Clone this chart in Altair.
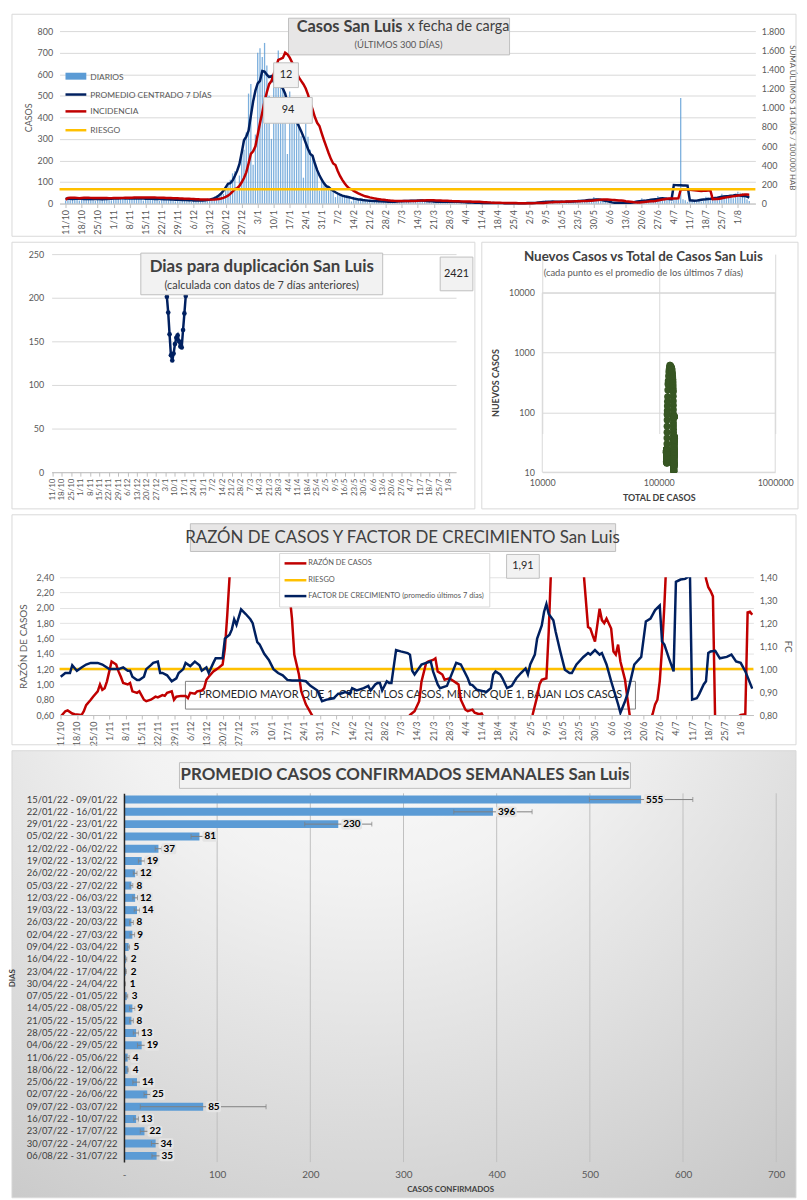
import altair as alt
import pandas as pd

FONT = "Lato"
GRAY_TXT = "#595959"
DARK_TXT = "#404040"

# ---------------- data ----------------
TICK_LABELS = ['11/10', '18/10', '25/10', '1/11', '8/11', '15/11', '22/11', '29/11', '6/12', '13/12',
               '20/12', '27/12', '3/1', '10/1', '17/1', '24/1', '31/1', '7/2', '14/2', '21/2', '28/2',
               '7/3', '14/3', '21/3', '28/3', '4/4', '11/4', '18/4', '25/4', '2/5', '9/5', '16/5',
               '23/5', '30/5', '6/6', '13/6', '20/6', '27/6', '4/7', '11/7', '18/7', '25/7', '1/8']

# daily cases, 11/10/2021 .. 06/08/2022 (300 days)
DAILY = [15, 28, 25, 24, 22, 18,
         14, 28, 25, 22, 24, 20, 19,
         13, 26, 24, 22, 21, 20, 16,
         15, 30, 28, 25, 26, 24, 20,
         16, 30, 27, 26, 25, 23, 21,
         14, 28, 26, 24, 22, 22, 18,
         12, 26, 24, 22, 20, 19, 17,
         10, 22, 20, 18, 17, 18, 14,
         8, 18, 16, 15, 14, 16, 12,
         10, 18, 20, 24, 28, 34, 40,
         45, 70, 85, 110, 140, 150, 60,
         130, 220, 250, 330, 510, 555, 180,
         320, 700, 720, 680, 745, 640, 500,
         300, 600, 640, 710, 560, 610, 465,
         230, 520, 470, 430, 420, 390, 312,
         120, 370, 310, 250, 220, 190, 150,
         60, 120, 95, 85, 75, 70, 62,
         30, 50, 42, 38, 35, 33, 31,
         10, 32, 25, 20, 16, 18, 12,
         8, 17, 14, 12, 11, 13, 9,
         4, 12, 10, 8, 7, 9, 6,
         6, 16, 14, 13, 12, 15, 8,
         8, 20, 18, 14, 12, 16, 10,
         4, 12, 9, 8, 7, 10, 6,
         5, 13, 10, 9, 8, 11, 7,
         3, 7, 6, 5, 4, 6, 4,
         1, 3, 2, 3, 2, 2, 1,
         2, 2, 3, 2, 2, 2, 1,
         0, 2, 1, 1, 2, 1, 0,
         1, 4, 3, 4, 3, 3, 3,
         4, 15, 12, 9, 8, 10, 5,
         5, 12, 9, 8, 7, 9, 6,
         6, 18, 15, 14, 12, 16, 10,
         10, 30, 22, 20, 18, 21, 12,
         2, 8, 5, 4, 3, 4, 2,
         3, 5, 4, 4, 4, 5, 3,
         5, 25, 18, 15, 14, 13, 8,
         18, 35, 28, 26, 24, 25, 19,
         10, 22, 20, 18, 490, 20, 15,
         8, 18, 15, 14, 12, 14, 10,
         12, 32, 28, 22, 20, 25, 15,
         25, 45, 40, 36, 32, 35, 25,
         30, 55, 50, 48, 30, 20, 12]

POBLACION = 520000
RIESGO_INC = 150
BASE_TOTAL = 116200

DUP_DIA = [85, 86, 87, 88, 89, 90, 91, 92, 93, 94, 95, 96, 97, 98, 99]
DUP_VAL = [201, 183, 158, 134, 128, 136, 147, 154, 157, 150, 144, 143, 163, 182, 202]

RAZON_DIA = [0, 2, 3, 5, 6, 9, 10, 11, 13, 14, 16, 17, 18, 19, 20, 21, 22, 24, 25, 26,
             27, 29, 30, 31, 33, 34, 36, 37, 39, 41, 42, 44, 45, 46, 48, 49, 50, 52, 54, 55,
             56, 58, 59, 61, 62, 63, 64, 66, 67, 68, 70, 71, 72, 74, 78, 85, 92, 97, 98, 100,
             101, 103, 104, 106, 109, 112, 130, 150, 151, 153, 155, 156, 158, 159, 161, 162, 163, 164, 165, 166,
             168, 169, 171, 172, 173, 175, 176, 178, 179, 181, 182, 184, 195, 203, 204, 206, 207, 208, 210, 211,
             212, 214, 220, 225, 226, 228, 229, 230, 231, 233, 234, 235, 236, 238, 239, 240, 241, 242, 244, 245,
             246, 248, 254, 256, 257, 258, 259, 260, 261, 262, 268, 275, 278, 279, 280, 281, 282, 283, 288, 293,
             294, 296, 297, 298, 299]
RAZON_VAL = [0.58, 0.65, 0.66, 0.62, 0.61, 0.60, 0.65, 0.73, 0.80, 0.84, 0.91, 1.00, 0.93, 0.95, 1.04, 1.17, 1.30, 1.26, 1.17, 1.10,
             1.02, 1.00, 1.02, 0.91, 0.89, 0.91, 0.80, 0.78, 0.80, 0.84, 0.83, 0.86, 0.85, 0.89, 0.91, 0.80, 0.84, 0.85, 0.85, 0.82,
             0.89, 0.88, 0.91, 0.92, 0.95, 1.06, 1.10, 1.17, 1.19, 1.21, 1.26, 1.47, 1.90, 2.9, 5.0, 6.0, 4.5, 3.0, 2.45, 1.86,
             1.39, 1.13, 0.91, 0.74, 0.58, 0.45, 0.40, 0.45, 0.60, 0.65, 0.78, 1.04, 1.28, 1.30, 1.32, 1.34, 1.17, 1.15, 1.13, 1.06,
             1.08, 1.06, 1.02, 1.00, 0.80, 0.67, 0.65, 0.67, 0.63, 0.61, 0.62, 0.50, 0.40, 0.50, 0.60, 0.84, 1.00, 1.06, 1.08, 1.69,
             2.5, 4.0, 5.0, 3.5, 2.5, 1.75, 1.73, 1.64, 1.56, 1.99, 1.84, 1.80, 1.86, 1.73, 1.43, 1.39, 1.52, 1.30, 1.06, 0.82,
             0.60, 0.45, 0.45, 0.62, 0.74, 0.80, 1.04, 1.47, 2.03, 2.7, 5.0, 4.0, 2.7, 2.38, 2.27, 2.22, 2.15, 0.45, 0.40, 0.58,
             0.60, 0.61, 1.94, 1.95, 1.91]
RIESGO_RAZON = 1.2

FC_DIA = [0, 2, 4, 5, 7, 9, 11, 13, 16, 18, 21, 25, 27, 29, 30, 31, 33, 34, 36, 37,
          39, 40, 42, 43, 44, 46, 48, 50, 51, 53, 54, 56, 58, 60, 61, 63, 64, 66, 67, 70,
          71, 73, 74, 75, 76, 78, 80, 82, 83, 85, 86, 88, 90, 92, 94, 96, 98, 100, 104, 106,
          108, 111, 112, 113, 115, 118, 120, 121, 123, 125, 126, 128, 131, 133, 134, 136, 137, 138, 139, 141,
          142, 143, 145, 147, 150, 151, 152, 153, 156, 158, 160, 161, 163, 164, 167, 169, 171, 173, 176, 177,
          178, 180, 183, 184, 186, 187, 188, 190, 191, 193, 195, 197, 199, 201, 202, 203, 205, 206, 208, 209,
          210, 211, 213, 214, 216, 218, 220, 221, 223, 226, 228, 229, 231, 233, 234, 236, 238, 241, 242, 244,
          245, 247, 248, 251, 253, 255, 257, 259, 260, 261, 263, 265, 266, 268, 270, 271, 272, 273, 275, 276,
          278, 279, 280, 281, 283, 285, 288, 290, 292, 294, 296, 299]
FC_VAL = [0.967, 0.983, 0.983, 1.017, 0.993, 1.007, 1.02, 1.027, 1.027, 1.02, 1.0, 1.0, 1.007, 0.993, 0.993, 0.967, 0.953, 0.953, 0.967, 1.0,
          1.017, 1.027, 1.033, 0.983, 0.983, 0.973, 0.947, 0.96, 0.983, 1.0, 1.027, 1.013, 1.033, 1.017, 0.993, 1.007, 0.983, 1.027, 1.047, 1.047,
          1.133, 1.15, 1.173, 1.217, 1.193, 1.26, 1.24, 1.217, 1.2, 1.117, 1.107, 1.067, 1.04, 1.0, 0.983, 0.973, 0.953, 0.95, 0.95, 0.947,
          0.927, 0.907, 0.883, 0.86, 0.867, 0.873, 0.893, 0.893, 0.90, 0.893, 0.917, 0.907, 0.917, 0.927, 0.907, 0.933, 0.94, 0.94, 0.907, 0.947,
          0.94, 0.94, 1.083, 1.077, 1.07, 1.063, 0.993, 0.977, 1.02, 1.027, 1.033, 0.99, 0.933, 0.917, 0.927, 0.977, 1.027, 1.02, 0.96, 0.933,
          0.93, 0.91, 0.903, 0.90, 0.917, 0.977, 0.99, 0.977, 0.96, 0.917, 0.927, 0.96, 0.983, 1.003, 0.977, 1.02, 1.063, 1.133, 1.19, 1.25,
          1.283, 1.24, 1.213, 1.163, 1.077, 0.997, 0.983, 0.983, 1.02, 1.053, 1.07, 1.063, 1.083, 1.063, 1.07, 1.02, 0.947, 0.847, 0.81, 0.86,
          0.89, 0.977, 1.02, 1.053, 1.207, 1.22, 1.257, 1.277, 1.12, 1.107, 1.047, 0.99, 1.38, 1.39, 1.393, 1.40, 1.45, 0.867, 0.873, 0.89,
          0.933, 0.947, 1.07, 1.077, 1.08, 1.047, 1.053, 1.063, 1.033, 1.027, 0.99, 0.915]

WEEK_LABELS = ['15/01/22 - 09/01/22', '22/01/22 - 16/01/22', '29/01/22 - 23/01/22', '05/02/22 - 30/01/22',
               '12/02/22 - 06/02/22', '19/02/22 - 13/02/22', '26/02/22 - 20/02/22', '05/03/22 - 27/02/22',
               '12/03/22 - 06/03/22', '19/03/22 - 13/03/22', '26/03/22 - 20/03/22', '02/04/22 - 27/03/22',
               '09/04/22 - 03/04/22', '16/04/22 - 10/04/22', '23/04/22 - 17/04/22', '30/04/22 - 24/04/22',
               '07/05/22 - 01/05/22', '14/05/22 - 08/05/22', '21/05/22 - 15/05/22', '28/05/22 - 22/05/22',
               '04/06/22 - 29/05/22', '11/06/22 - 05/06/22', '18/06/22 - 12/06/22', '25/06/22 - 19/06/22',
               '02/07/22 - 26/06/22', '09/07/22 - 03/07/22', '16/07/22 - 10/07/22', '23/07/22 - 17/07/22',
               '30/07/22 - 24/07/22', '06/08/22 - 31/07/22']
WEEK_AVG = [555, 396, 230, 81, 37, 19, 12, 8, 12, 14, 8, 9, 5, 2, 2, 1, 3, 9, 8, 13, 19, 4, 4, 14, 25, 85, 13, 22, 34, 35]
WEEK_SE = [55.5, 42, 36, 9, 3.5, 3.5, 2, 1.5, 2.5, 3, 2, 2.5, 1, 1, 0.5, 0.5, 1, 3, 2, 3, 4.5, 1.5, 0.5, 4.5, 3.5, 67.5, 2.5, 4.5, 4.5, 5]
GRID_X = [100, 200, 300, 400, 500, 600, 700]

LAST_DAILY = "12"
LAST_INC = "94"
LAST_DUP = "2421"
LAST_RAZON = "1,91"

# ---------------- helpers ----------------
ONE = pd.DataFrame({'k': [0]})
LBL_EXPR = "[" + ",".join("'%s'" % s for s in TICK_LABELS) + "][round(datum.value/7)]"
XDOM = alt.Scale(domain=[-0.5, 299.5], nice=False, zero=False)


def rect(x1, y1, x2, y2, fill='#ffffff', stroke='#d9d9d9', sw=1, fo=1.0):
    return alt.Chart(ONE).mark_rect(fill=fill, stroke=stroke, strokeWidth=sw, fillOpacity=fo).encode(
        x=alt.value(x1), x2=alt.value(x2), y=alt.value(y1), y2=alt.value(y2))


def txt(x, y, s, size=10, weight='normal', color=DARK_TXT, align='center'):
    return alt.Chart(ONE).mark_text(text=s, fontSize=size, fontWeight=weight, color=color, align=align,
                                    baseline='middle', font=FONT).encode(x=alt.value(x), y=alt.value(y))


def hline(x1, x2, y, color, width):
    return alt.Chart(ONE).mark_rule(color=color, strokeWidth=width).encode(
        x=alt.value(x1), x2=alt.value(x2), y=alt.value(y))


def xaxis(size):
    return alt.Axis(values=list(range(0, 295, 7)), labelExpr=LBL_EXPR, labelAngle=270, labelFontSize=size,
                    labelColor=GRAY_TXT, labelFont=FONT, labelPadding=2, labelOverlap=False, labelFlush=False,
                    grid=False, tickSize=4, tickColor='#bfbfbf', domainColor='#bfbfbf', title=None)


day_df = pd.DataFrame({'day': list(range(len(DAILY))), 'cases': DAILY})
SORT_DAY = [alt.SortField('day', order='ascending')]

# Every panel's plot origin sits 48px right of its frame's left edge (concat aligns origins).
L0 = 48

# ---------------- panel A ----------------
WA, HA = 702, 174
TA, RA, BA = 17, 41, 33
XA = alt.X('day:Q', scale=XDOM, axis=xaxis(9))
YL_AX = alt.Axis(values=list(range(0, 801, 100)), grid=True, gridColor='#d9d9d9', domain=False,
                 ticks=False, labelPadding=7, labelFontSize=9, labelColor=GRAY_TXT, title='CASOS',
                 titleFontSize=9, titleFontWeight='normal', titleColor=GRAY_TXT, titlePadding=4)
YR_AX = alt.Axis(orient='right', values=list(range(0, 1801, 200)),
                 labelExpr="replace(format(datum.value, ','), ',', '.')", grid=False, domain=False,
                 ticks=False, labelPadding=6, labelFontSize=9, labelColor=GRAY_TXT,
                 title='SUMA  ÚLTIMOS 14 DÍAS / 100.000 HAB', titleFontSize=8,
                 titleFontWeight='normal', titleColor=GRAY_TXT, titlePadding=3)

a_bars = alt.Chart(day_df).mark_bar(color='#5b9bd5', opacity=0.8, size=1.3).encode(
    x=XA, y=alt.Y('cases:Q', scale=alt.Scale(domain=[0, 800]), axis=YL_AX))
a_navy = alt.Chart(day_df).transform_window(prom='mean(cases)', frame=[-3, 3], sort=SORT_DAY).mark_line(
    color='#002060', strokeWidth=2.5).encode(
    x=XA, y=alt.Y('prom:Q', scale=alt.Scale(domain=[0, 800]), axis=YL_AX))
a_red = alt.Chart(day_df).transform_window(m14='mean(cases)', frame=[-13, 0], sort=SORT_DAY).transform_calculate(
    inc='datum.m14 * 14 * 100000 / %d' % POBLACION).mark_line(color='#c00000', strokeWidth=2.5).encode(
    x=XA, y=alt.Y('inc:Q', scale=alt.Scale(domain=[0, 1800]), axis=YR_AX))
a_yel = alt.Chart(pd.DataFrame({'riesgo': [RIESGO_INC]})).mark_rule(color='#ffc000', strokeWidth=2.5).encode(
    y=alt.Y('riesgo:Q', scale=alt.Scale(domain=[0, 1800]), axis=YR_AX))

panelA = alt.layer(
    rect(-L0, -TA, WA + RA, HA + BA, fo=0),
    rect(231, -13, 454, 24, fill='#e7e6e6', stroke='#bfbfbf'),
    txt(346, -4, 'Casos San Luis', 16.5, 'bold', DARK_TXT, 'right'),
    txt(351, -4, 'x fecha de carga', 14.5, 'normal', DARK_TXT, 'left'),
    txt(342, 14, '(ÚLTIMOS 300 DÍAS)', 9.5, 'normal', GRAY_TXT),
    alt.layer(a_bars, a_navy), alt.layer(a_red, a_yel),
    rect(6, 42, 27, 49, fill='#5b9bd5', stroke='#5b9bd5', sw=0),
    txt(31, 46, 'DIARIOS', 8.5, 'normal', GRAY_TXT, 'left'),
    hline(6, 27, 64, '#002060', 2.5),
    txt(31, 64, 'PROMEDIO CENTRADO 7 DÍAS', 8.5, 'normal', GRAY_TXT, 'left'),
    hline(6, 27, 81, '#c00000', 2.5),
    txt(31, 81, 'INCIDENCIA', 8.5, 'normal', GRAY_TXT, 'left'),
    hline(6, 27, 100, '#ffc000', 2.5),
    txt(31, 100, 'RIESGO', 8.5, 'normal', GRAY_TXT, 'left'),
    rect(216, 32, 241, 57, fill='#f2f2f2', stroke='#bfbfbf'),
    txt(228.5, 44.5, LAST_DAILY, 11, 'normal', '#262626'),
    rect(206, 67, 255, 93, fill='#f2f2f2', stroke='#bfbfbf'),
    txt(230.5, 80, LAST_INC, 11, 'normal', '#262626'),
).resolve_scale(y='independent').properties(width=WA, height=HA)

# ---------------- panel B left ----------------
WBL, HBL = 400, 220
TBL, RBL, BBL = 12, 19, 37
dup_df = pd.DataFrame({'day': DUP_DIA, 'dup': DUP_VAL})
XB = alt.X('day:Q', scale=alt.Scale(domain=[-0.5, 299.5], nice=False, zero=False, range=[-8, WBL]),
           axis=xaxis(8))
YB = alt.Y('dup:Q', scale=alt.Scale(domain=[0, 250]),
           axis=alt.Axis(values=[0, 50, 100, 150, 200, 250], grid=True, gridColor='#d9d9d9', domain=False,
                         ticks=False, labelPadding=8, labelFontSize=9, labelColor=GRAY_TXT, title=None, offset=8))
b_line = alt.Chart(dup_df).mark_line(color='#002060', strokeWidth=2.5).encode(x=XB, y=YB)
b_pts = alt.Chart(dup_df).mark_circle(color='#002060', size=22, opacity=1).encode(x=XB, y=YB)
panelBL = alt.layer(
    rect(-L0, -TBL, WBL + RBL, HBL + BBL, fo=0),
    b_line, b_pts,
    rect(82, -1, 326, 41, fill='#f2f2f2', stroke='#bfbfbf'),
    txt(204, 13, 'Dias para duplicación San Luis', 17, 'bold', DARK_TXT),
    txt(204, 32, '(calculada con datos de 7 días anteriores)', 11, 'normal', DARK_TXT),
    rect(384, 3, 417, 37, fill='#f2f2f2', stroke='#bfbfbf'),
    txt(400.5, 20, LAST_DUP, 11, 'normal', '#262626'),
).properties(width=WBL, height=HBL)

# ---------------- panel B right ----------------
WBR, HBR = 235, 220
TOPR = 39
LBR, RBR, BBR = 61, 23, 37
sc_base = alt.Chart(day_df).transform_window(cum='sum(cases)', frame=[None, 0], sort=SORT_DAY).transform_window(
    new7='mean(cases)', frame=[-6, 0], sort=SORT_DAY).transform_calculate(total='datum.cum + %d' % BASE_TOTAL)
XS = alt.X('total:Q', scale=alt.Scale(type='log', domain=[10000, 1000000]),
           axis=alt.Axis(values=[10000, 100000, 1000000], format='d', grid=True, gridColor='#d9d9d9',
                         domain=False, ticks=False, labelFontSize=9, labelColor=GRAY_TXT, labelPadding=6,
                         labelFlush=False, title='TOTAL DE CASOS', titleFontSize=9, titleFontWeight='bold',
                         titleColor=DARK_TXT, titlePadding=7))
YS = alt.Y('new7:Q', scale=alt.Scale(type='log', domain=[10, 10000], range=[HBR, TOPR]),
           axis=alt.Axis(values=[10, 100, 1000, 10000], format='d', grid=True, gridColor='#d9d9d9',
                         domain=False, ticks=False, labelFontSize=9, labelColor=GRAY_TXT, labelPadding=8,
                         labelFlush=False, title='NUEVOS CASOS', titleFontSize=9, titleFontWeight='bold',
                         titleColor=DARK_TXT, titlePadding=8))
sc_line = sc_base.mark_line(color='#375623', strokeWidth=2, clip=True).encode(x=XS, y=YS, order='day:Q')
sc_pts = sc_base.mark_circle(color='#375623', size=50, opacity=1, clip=True).encode(x=XS, y=YS)
panelBR = alt.layer(
    rect(-LBR, -TBL, WBR + RBR, HBR + BBR, fo=0),
    rect(0, TOPR, WBR, HBR, stroke='#d9d9d9', fo=0),
    sc_line, sc_pts,
    txt(102, 3, 'Nuevos Casos vs Total de Casos San Luis', 13.5, 'bold', DARK_TXT),
    txt(102, 19, '(cada punto es el promedio de los últimos 7 días)', 9.5, 'normal', GRAY_TXT),
).properties(width=WBR, height=HBR)

rowB = alt.hconcat(panelBL, panelBR, spacing=5)

# ---------------- panel C ----------------
WC, HC = 700, 139
TC, RC, BC = 63, 43, 30
comma = "replace(format(datum.value, '.2f'), '.', ',')"
raz_df = pd.DataFrame({'day': RAZON_DIA, 'razon': RAZON_VAL})
fc_df = pd.DataFrame({'day': FC_DIA, 'fc': FC_VAL})
XC = alt.X('day:Q', scale=XDOM, axis=xaxis(9))
YC_L = alt.Axis(values=[round(0.6 + 0.2 * i, 2) for i in range(10)], labelExpr=comma, grid=True,
                gridColor='#e3e3e3', domain=False, ticks=False, labelPadding=6, labelFontSize=9,
                labelColor=GRAY_TXT, title='RAZÓN  DE CASOS', titleFontSize=10,
                titleFontWeight='normal', titleColor=GRAY_TXT, titlePadding=8)
c_raz = alt.Chart(raz_df).mark_line(color='#c00000', strokeWidth=2.5, clip=True).encode(
    x=XC, y=alt.Y('razon:Q', scale=alt.Scale(domain=[0.6, 2.4], nice=False, zero=False), axis=YC_L))
c_ries = alt.Chart(pd.DataFrame({'r': [RIESGO_RAZON]})).mark_rule(color='#ffc000', strokeWidth=2.5).encode(
    y=alt.Y('r:Q', scale=alt.Scale(domain=[0.6, 2.4], nice=False, zero=False), axis=YC_L))
c_fc = alt.Chart(fc_df).mark_line(color='#002060', strokeWidth=2.5, clip=True).encode(
    x=XC,
    y=alt.Y('fc:Q', scale=alt.Scale(domain=[0.8, 1.4], nice=False, zero=False),
            axis=alt.Axis(orient='right', values=[round(0.8 + 0.1 * i, 2) for i in range(7)], labelExpr=comma,
                          grid=False, domain=False, ticks=False, labelPadding=6, labelFontSize=9,
                          labelColor=GRAY_TXT, title='FC', titleFontSize=10, titleFontWeight='normal',
                          titleColor=GRAY_TXT, titlePadding=6)))
panelC = alt.layer(
    rect(-L0, -TC, WC + RC, HC + BC, fo=0),
    rect(127, 105, 581, 133, stroke='#7f7f7f', fo=0),
    txt(354, 119, 'PROMEDIO MAYOR QUE 1, CRECEN LOS CASOS, MENOR QUE 1, BAJAN LOS CASOS', 11, 'normal', '#262626'),
    alt.layer(c_ries, c_raz), c_fc,
    rect(132, -54, 561, -26, fill='#e7e6e6', stroke='#bfbfbf'),
    txt(346, -40, 'RAZÓN DE CASOS Y FACTOR DE CRECIMIENTO San Luis', 17, 'normal', DARK_TXT),
    rect(222, -24, 434, 30, fill='#ffffff', stroke='#d9d9d9'),
    hline(227, 249, -14, '#c00000', 2.5),
    txt(251, -14, 'RAZÓN DE CASOS', 7.5, 'normal', GRAY_TXT, 'left'),
    hline(227, 249, 3, '#ffc000', 2.5),
    txt(251, 3, 'RIESGO', 7.5, 'normal', GRAY_TXT, 'left'),
    hline(227, 249, 19, '#002060', 2.5),
    txt(251, 19, 'FACTOR DE CRECIMIENTO (promedio últimos 7 días)', 7.5, 'normal', GRAY_TXT, 'left'),
    rect(451, -23, 484, 1, fill='#f2f2f2', stroke='#bfbfbf'),
    txt(467.5, -11, LAST_RAZON, 11, 'normal', '#262626'),
).resolve_scale(y='independent').properties(width=WC, height=HC)

# ---------------- panel D ----------------
X0D = 65
WD, HD = 723, 372
TD, RD, BD = 43, 20, 36
wk = pd.DataFrame({'semana': WEEK_LABELS, 'prom': WEEK_AVG, 'se': WEEK_SE})
xs = alt.Scale(domain=[0, 700], nice=False, zero=True, range=[X0D, WD])
XD_AX = alt.Axis(values=[0, 100, 200, 300, 400, 500, 600, 700], labelExpr="datum.value == 0 ? '-' : datum.label",
                 grid=False, domain=False, ticks=False, labelFontSize=10, labelColor=GRAY_TXT,
                 labelPadding=8, labelFlush=False, title='CASOS CONFIRMADOS', titleFontSize=8,
                 titleFontWeight='bold', titleColor=DARK_TXT, titlePadding=6, zindex=1, titleX=X0D + 329)
ydef = alt.Y('semana:N', sort=None, scale=alt.Scale(paddingInner=0.35, paddingOuter=0.18),
             axis=alt.Axis(labelFontSize=9.5, labelColor=DARK_TXT, labelPadding=7, ticks=False, domain=True,
                           domainColor='#262626', domainWidth=1.5, title='DIAS', titleFontSize=8,
                           titleFontWeight='bold', titleColor=DARK_TXT, titlePadding=10, zindex=1,
                           offset=-X0D))
grad = alt.Gradient(gradient='radial', x1=0.45, y1=0.05, r1=0.0, x2=0.45, y2=0.05, r2=0.95,
                    stops=[alt.GradientStop(color='#ffffff', offset=0),
                           alt.GradientStop(color='#f2f2f2', offset=0.35),
                           alt.GradientStop(color='#c4c4c4', offset=1)])
d_bg = alt.Chart(ONE).mark_rect(fill=grad, stroke='#d9d9d9', strokeWidth=1).encode(
    x=alt.value(-L0), x2=alt.value(WD + RD), y=alt.value(-TD), y2=alt.value(HD + BD))
d_grid = alt.Chart(pd.DataFrame({'g': GRID_X})).mark_rule(color='#bfbfbf', strokeWidth=1).encode(
    x=alt.X('g:Q', scale=xs, axis=XD_AX))
d_bars = alt.Chart(wk).mark_bar(color='#5b9bd5').encode(
    x=alt.X('prom:Q', scale=xs, axis=XD_AX), y=ydef)
err_base = alt.Chart(wk).transform_calculate(lo='datum.prom - datum.se', hi='datum.prom + datum.se')
d_err = err_base.mark_rule(color='#7f7f7f', strokeWidth=1).encode(
    x=alt.X('lo:Q', scale=xs, axis=XD_AX), x2='hi:Q', y=ydef)
d_cap_lo = err_base.mark_tick(color='#7f7f7f', thickness=1, size=5).encode(
    x=alt.X('lo:Q', scale=xs, axis=XD_AX), y=ydef)
d_cap_hi = err_base.mark_tick(color='#7f7f7f', thickness=1, size=5).encode(
    x=alt.X('hi:Q', scale=xs, axis=XD_AX), y=ydef)

lbl_bg = []
for nd, w in [(1, 9), (2, 15), (3, 21)]:
    lbl_bg.append(alt.Chart(wk).transform_calculate(nd='length(toString(datum.prom))').transform_filter(
        'datum.nd == %d' % nd).mark_bar(color='#e4e4e4', size=11, xOffset=3, x2Offset=3 + w, cornerRadius=2).encode(
        x=alt.X('prom:Q', scale=xs, axis=XD_AX), x2='prom:Q', y=ydef))
d_lbl = alt.Chart(wk).mark_text(align='left', dx=5, fontSize=10, fontWeight='bold', color='#000000',
                                font=FONT).encode(x=alt.X('prom:Q', scale=xs, axis=XD_AX), y=ydef,
                                                  text='prom:Q')
panelD = alt.layer(
    d_bg, d_grid, d_bars, d_err, d_cap_lo, d_cap_hi, *lbl_bg, d_lbl,
    rect(121, -31, 576, -5, fill='#f2f2f2', stroke='#bfbfbf'),
    txt(348.5, -18, 'PROMEDIO CASOS CONFIRMADOS SEMANALES San Luis', 17, 'bold', DARK_TXT),
).properties(width=WD, height=HD)

chart = alt.vconcat(panelA, rowB, panelC, panelD, spacing=4).properties(
    padding={'left': 0, 'top': 0, 'right': 0, 'bottom': 0}, background='white'
).configure_view(strokeWidth=0).configure_axis(labelFont=FONT, titleFont=FONT).configure_text(font=FONT)

chart.save("out.html", embed_options={"renderer": "svg", "actions": False})
